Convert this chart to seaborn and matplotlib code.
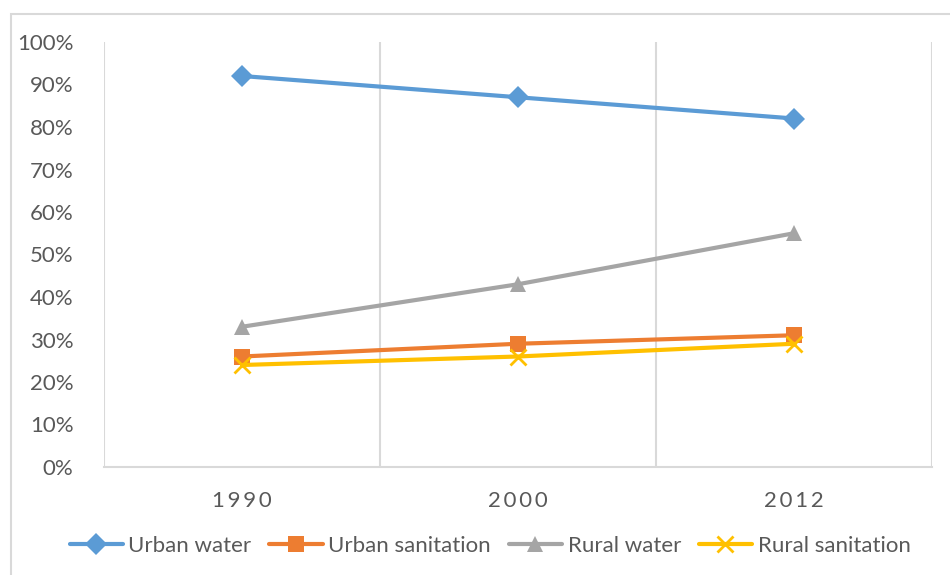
import pandas as pd
import matplotlib.pyplot as plt
import matplotlib.patches as mpatches
from matplotlib.ticker import PercentFormatter
import seaborn as sns

# Values (share, 0-1)
years = ["1990", "2000", "2012"]
urban_water = [0.92, 0.87, 0.82]
urban_sanitation = [0.26, 0.29, 0.31]
rural_water = [0.33, 0.43, 0.55]
rural_sanitation = [0.24, 0.26, 0.29]

series_names = ["Urban water", "Urban sanitation", "Rural water", "Rural sanitation"]
series_values = [urban_water, urban_sanitation, rural_water, rural_sanitation]
colors = ["#5B9BD5", "#ED7D31", "#A5A5A5", "#FFC000"]
markers = ["D", "s", "^", "x"]
msizes = [11, 11, 12, 12]

sns.set_style("white")
plt.rcParams["font.family"] = ["Lato", "DejaVu Sans"]
text_col = "#595959"
grid_col = "#D9D9D9"

fig = plt.figure(figsize=(9.5, 5.75), dpi=100)
ax = fig.add_axes([104 / 950, 1 - 467 / 575, (932 - 104) / 950, (467 - 42) / 575])

# one call per series: seaborn won't mix filled and line-art markers
for name, vals, col, mk, ms in zip(series_names, series_values, colors, markers, msizes):
    d = pd.DataFrame({"year": years, "value": vals})
    sns.lineplot(data=d, x="year", y="value", color=col, marker=mk,
                 markersize=ms, markeredgewidth=(2 if mk == "x" else 0),
                 markeredgecolor=col, linewidth=3, label=name, ax=ax)

ax.set_xlim(-0.5, 2.5)
ax.set_ylim(0, 1)
ax.set_yticks([i / 10 for i in range(11)])
ax.yaxis.set_major_formatter(PercentFormatter(1.0, decimals=0))
ax.set_xticks(range(len(years)))
ax.set_xticklabels(["\u2009".join(y) for y in years])
ax.set_xticks([-0.5, 0.5, 1.5, 2.5], minor=True)
ax.grid(which="minor", axis="x", color=grid_col, linewidth=1.5)
ax.grid(which="major", visible=False)
ax.tick_params(axis="both", which="both", length=0, colors=text_col, labelsize=16)
ax.tick_params(axis="y", pad=22)
ax.tick_params(axis="x", pad=17)
ax.set_xlabel("")
ax.set_ylabel("")
for side in ["top", "left", "right"]:
    ax.spines[side].set_visible(False)
ax.spines["bottom"].set_color(grid_col)
ax.spines["bottom"].set_linewidth(1.5)

handles, labels = ax.get_legend_handles_labels()
ax.legend_.remove()
leg = fig.legend(handles, labels, loc="center", bbox_to_anchor=(490 / 950, 1 - 546 / 575),
                 ncol=4, frameon=False, fontsize=16, handlelength=2.4,
                 handletextpad=0.25, columnspacing=0.8)
for t in leg.get_texts():
    t.set_color(text_col)

# outer chart frame (cropped on the right and bottom in the reference)
fig.patches.append(mpatches.Rectangle((11 / 950, -0.1), 1.0, 1.1 - 14 / 575,
                                      transform=fig.transFigure, fill=False,
                                      edgecolor=grid_col, linewidth=1.5))

fig.savefig("out.png", dpi=100)
